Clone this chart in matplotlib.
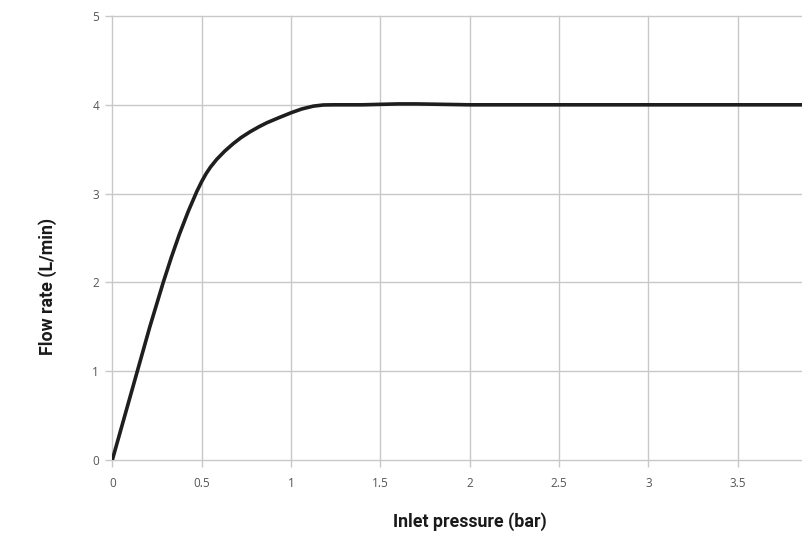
import matplotlib.pyplot as plt
import numpy as np

# values
pressure = [0, 0.07, 0.14, 0.21, 0.285, 0.33, 0.375, 0.425, 0.472, 0.5, 0.525, 0.55,
            0.584, 0.63, 0.677, 0.72, 0.77, 0.82, 0.864, 0.93, 1.0, 1.06, 1.125, 1.18,
            1.24, 1.4, 1.6, 1.7, 1.85, 2.0, 2.5, 3.0, 3.5, 3.9]
flow = [0, 0.5, 1.0, 1.5, 2.0, 2.28, 2.54, 2.8, 3.02, 3.135, 3.225, 3.3,
        3.385, 3.48, 3.563, 3.63, 3.695, 3.752, 3.797, 3.853, 3.91, 3.953, 3.985, 3.998,
        4.0, 4.0, 4.01, 4.01, 4.005, 4.0, 4.0, 4.0, 4.0, 4.0]

xticks = [0, 0.5, 1, 1.5, 2, 2.5, 3, 3.5]
xticklabels = ["0", "0.5", "1", "1.5", "2", "2.5", "3", "3.5"]
yticks = [0, 1, 2, 3, 4, 5]

fig = plt.figure(figsize=(8.03, 5.35), dpi=100)
ax = fig.add_axes([112.3/803, 75/535, (803-112.3)/803, 444/535])

ax.plot(pressure, flow, "-", color="#1e1e1e", lw=2.6, solid_capstyle="round",
        solid_joinstyle="round", zorder=3)

ax.set_xlim(0, 3.865)
ax.set_ylim(0, 5)
ax.set_xticks(xticks)
ax.set_xticklabels(xticklabels)
ax.set_yticks(yticks)
ax.grid(True, color="#c8c8c8", lw=1.0)
# edge gridlines (0 and 5) should not be cut in half
for gl in ax.get_xgridlines() + ax.get_ygridlines():
    gl.set_clip_on(False)
for s in ax.spines.values():
    s.set_visible(False)
ax.tick_params(axis="both", length=5, width=1, color="#c8c8c8", labelcolor="#555555",
               labelsize=8.5)
ax.tick_params(axis="x", pad=7.5)
ax.tick_params(axis="y", pad=4.5)
for lab in ax.get_xticklabels() + ax.get_yticklabels():
    lab.set_family("Open Sans")

ax.set_xlabel("Inlet pressure (bar)", family="Roboto", weight="bold", fontsize=12.8,
              color="#1a1a1a", va="center")
ax.set_ylabel("Flow rate (L/min)", family="Roboto", weight="bold", fontsize=12.8,
              color="#1a1a1a", va="center")
ax.xaxis.set_label_coords(0.518, -0.1396)
ax.yaxis.set_label_coords(-0.0931, 0.392)

fig.savefig("out.png", dpi=100)
